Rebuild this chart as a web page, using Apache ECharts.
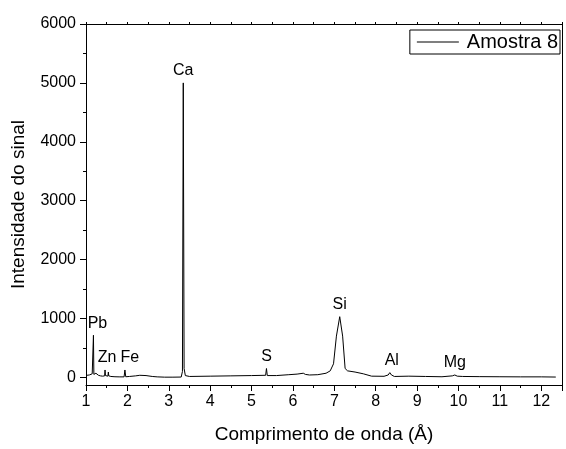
<!DOCTYPE html>
<html>
<head>
<meta charset="utf-8">
<script src="https://cdn.jsdelivr.net/npm/echarts@6/dist/echarts.min.js"></script>
<style>
  html, body { margin: 0; padding: 0; background: #fff; }
  #chart { width: 566px; height: 449px; }
</style>
</head>
<body>
<div id="chart"></div>
<script>
// Wavelength (Å) and signal intensity of the spectrum
const waveX = [1.02, 1.08, 1.12, 1.15, 1.17, 1.18, 1.19, 1.21, 1.24, 1.26, 1.30, 1.35, 1.40, 1.45, 1.46, 1.47,
  1.50, 1.53, 1.54, 1.55, 1.60, 1.70, 1.80, 1.92, 1.94, 1.96, 2.05, 2.20, 2.30, 2.45, 2.60, 2.72, 2.74, 2.76,
  2.90, 3.10, 3.30, 3.33, 3.35, 3.37, 3.40, 3.50, 4.00, 4.50, 5.00, 5.34, 5.36, 5.38, 5.42, 5.60, 5.90, 6.10,
  6.25, 6.30, 6.40, 6.60, 6.80, 6.90, 6.98, 7.05, 7.13, 7.20, 7.26, 7.32, 7.50, 7.70, 7.90, 8.20, 8.30, 8.34,
  8.38, 8.45, 8.80, 9.20, 9.60, 9.85, 9.91, 9.97, 10.10, 10.50, 11.00, 11.50, 12.00, 12.35];
const signal = [35, 40, 30, 60, 40, 715, 50, 45, 70, 40, 35, 25, 20, 25, 125, 30,
  35, 20, 90, 25, 15, 10, 8, 8, 125, 10, 15, 25, 35, 30, 15, 8, 25, 5,
  3, 3, 5, 100, 5000, 150, 30, 15, 20, 25, 30, 35, 150, 30, 5, 30, 45, 55,
  70, 50, 40, 45, 70, 110, 230, 700, 1030, 700, 150, 110, 90, 60, 20, 18, 40, 80,
  40, 15, 20, 15, 10, 25, 40, 20, 15, 12, 10, 8, 8, 5];

// Element peaks that get a label
const peakNames = ['Pb', 'Zn', 'Fe', 'Ca', 'S', 'Si', 'Al', 'Mg'];
const peakX = [1.18, 1.46, 1.94, 3.35, 5.36, 7.13, 8.34, 9.91];
const peakY = [715, 125, 125, 5000, 150, 1030, 80, 40];

// Axis ticks
const yMajor = [0, 1000, 2000, 3000, 4000, 5000, 6000];
const yMinor = [500, 1500, 2500, 3500, 4500, 5500];

const seriesName = 'Amostra 8';
const FONT = '"Liberation Sans", Arial, sans-serif';

const chart = echarts.init(document.getElementById('chart'), null, { renderer: 'canvas' });

// small horizontal nudges so element names sit beside crowded peaks
const labelOffsets = { Pb: [4, 0], Zn: [2, 0], Fe: [5, 0], Al: [2, 0] };

chart.setOption({
  animation: false,
  backgroundColor: '#fff',
  grid: { left: 86, right: 4, top: 24, bottom: 62 },
  legend: {
    data: [{ name: seriesName, icon: 'rect' }],
    right: 6,
    top: 30,
    orient: 'horizontal',
    borderColor: '#000',
    borderWidth: 1,
    borderRadius: 0,
    padding: [2, 2, 2, 7],
    itemWidth: 42,
    itemHeight: 1,
    itemGap: 0,
    itemStyle: { color: '#000' },
    textStyle: { fontFamily: FONT, fontSize: 20, color: '#000', padding: [0, 0, 0, 3] }
  },
  xAxis: [
    {
      type: 'value', min: 1, max: 12.5, interval: 1, position: 'bottom',
      axisLine: { show: true, onZero: false, lineStyle: { color: '#000', width: 1 } },
      axisTick: { show: true, inside: false, length: 6, lineStyle: { color: '#000' } },
      minorTick: { show: true, splitNumber: 2, length: 3, lineStyle: { color: '#000' } },
      splitLine: { show: false },
      axisLabel: { fontFamily: FONT, fontSize: 16, color: '#000', margin: 9, formatter: v => String(v) },
      name: 'Comprimento de onda (Å)', nameLocation: 'middle', nameGap: 40,
      nameTextStyle: { fontFamily: FONT, fontSize: 19, color: '#000' }
    },
    {
      type: 'value', min: 1, max: 12.5, interval: 0.5, position: 'top',
      axisLine: { show: true, onZero: false, lineStyle: { color: '#000', width: 1 } },
      axisTick: { show: true, inside: false, length: 2, lineStyle: { color: '#000' } },
      axisLabel: { show: false },
      splitLine: { show: false }
    }
  ],
  yAxis: [
    {
      type: 'value', min: -130, max: 6000, position: 'left',
      axisLine: { show: true, onZero: false, lineStyle: { color: '#000', width: 1 } },
      axisTick: { show: true, inside: false, length: 6, customValues: yMajor, lineStyle: { color: '#000' } },
      axisLabel: { fontFamily: FONT, fontSize: 16, color: '#000', margin: 10, customValues: yMajor, formatter: v => String(v) },
      splitLine: { show: false },
      name: 'Intensidade do sinal', nameLocation: 'middle', nameGap: 58, nameRotate: 90,
      nameTextStyle: { fontFamily: FONT, fontSize: 19, color: '#000' }
    },
    {
      type: 'value', min: -130, max: 6000, position: 'left',
      axisLine: { show: false },
      axisTick: { show: true, inside: false, length: 3, customValues: yMinor, lineStyle: { color: '#000' } },
      axisLabel: { show: false },
      splitLine: { show: false }
    },
    {
      type: 'value', min: -130, max: 6000, position: 'right',
      axisLine: { show: true, onZero: false, lineStyle: { color: '#000', width: 1 } },
      axisTick: { show: false },
      axisLabel: { show: false },
      splitLine: { show: false }
    }
  ],
  series: [
    {
      name: seriesName,
      type: 'line',
      xAxisIndex: 0,
      yAxisIndex: 0,
      symbol: 'none',
      showSymbol: false,
      lineStyle: { color: '#000', width: 1 },
      itemStyle: { color: '#000' },
      data: waveX.map((x, i) => [x, signal[i]]),
      z: 3
    },
    {
      name: 'peaks',
      type: 'scatter',
      xAxisIndex: 0,
      yAxisIndex: 0,
      symbolSize: 0,
      silent: true,
      itemStyle: { opacity: 1, color: '#000' },
      data: peakX.map((x, i) => ({
        value: [x, peakY[i]],
        name: peakNames[i],
        label: { offset: labelOffsets[peakNames[i]] || [0, 0] }
      })),
      label: {
        show: true,
        position: 'top',
        distance: 4,
        formatter: p => p.name,
        fontFamily: FONT,
        fontSize: 16,
        color: '#000'
      },
      z: 4
    }
  ]
});
</script>
</body>
</html>
